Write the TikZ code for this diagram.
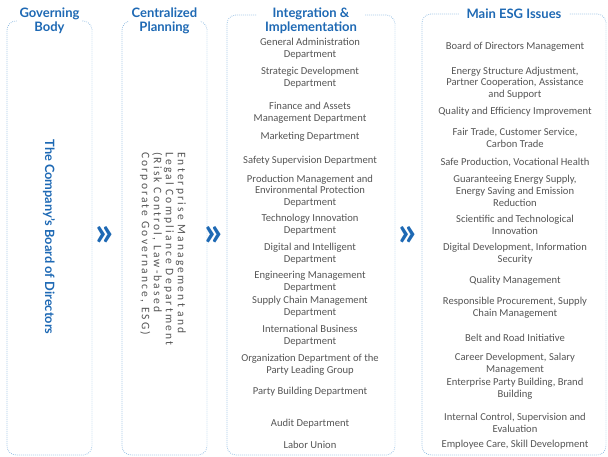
\documentclass[tikz,border=0pt]{standalone}
\usepackage{fontspec}
\setmainfont{Carlito}
\newfontfamily\headfont{Lato}
\newfontfamily\spacedfont[LetterSpace=19]{Carlito}
\definecolor{esgblue}{RGB}{30,105,180}
\definecolor{dotblue}{RGB}{125,175,220}
\definecolor{txtgray}{RGB}{85,85,85}

\begin{document}
\begin{tikzpicture}[x=1pt,y=-1pt,
    frame/.style={draw=dotblue,line width=0.8pt,dash pattern=on 0.6pt off 1.4pt,
      rounded corners=9pt,inner sep=0pt},
    head/.style={fill=white,inner xsep=8pt,inner ysep=1pt,align=center,text=esgblue,
      font=\headfont\bfseries\fontsize{13}{14}\selectfont},
    item/.style={align=center,text=txtgray,inner sep=0pt,
      font=\fontsize{10.6}{11.8}\selectfont},
    chev/.style={text=esgblue,inner sep=0pt,
      font=\headfont\bfseries\fontsize{40}{40}\selectfont}]
    \useasboundingbox (0,0) rectangle (608,457);

    \node[frame,minimum width=85pt,minimum height=434pt] (b1) at (49.5,238) {};
    \node[frame,minimum width=85pt,minimum height=434pt] (b2) at (164.5,238) {};
    \node[frame,minimum width=168pt,minimum height=440pt] (b3) at (311,235) {};
    \node[frame,minimum width=184pt,minimum height=441pt] (b4) at (514,234.5) {};

    \node[head,inner xsep=3pt] (t1) at (b1.north) {Governing\\Body};
    \node[head,inner xsep=3pt] (t2) at (b2.north) {Centralized\\Planning};
    \node[head] (t3) at ([yshift=-6.5pt]b3.north) {Integration \&\\Implementation};
    \node[head] (t4) at (b4.north) {Main ESG Issues};

    \node[text=esgblue,rotate=-90,inner sep=0pt,
      font=\headfont\bfseries\fontsize{12.8}{14}\selectfont] (gov) at (49,237)
      {The Company’s Board of Directors};
    \node[item,rotate=-90,anchor=west,align=left,
      font=\spacedfont\fontsize{11.5}{12}\selectfont] (plan) at (163,152)
      {Enterprise Management and\\Legal Compliance Department\\(Risk Control, Law-based\\Corporate Governance, ESG)};

    \node[chev] (c1) at (104.5,236) {»};
    \node[chev] (c2) at (213.5,236) {»};
    \node[chev] (c3) at (408,236) {»};

    % departments
    \node[item] (d1) at (310,49) {General Administration\\Department};
    \node[item] (d2) at (310,78) {Strategic Development\\Department};
    \node[item] (d3) at (310,113) {Finance and Assets\\Management Department};
    \node[item] (d4) at (310,137) {Marketing Department};
    \node[item] (d5) at (310,161) {Safety Supervision Department};
    \node[item] (d6) at (310,191) {Production Management and\\Environmental Protection\\Department};
    \node[item] (d7) at (310,225) {Technology Innovation\\Department};
    \node[item] (d8) at (310,254) {Digital and Intelligent\\Department};
    \node[item] (d9) at (310,282) {Engineering Management\\Department};
    \node[item] (d10) at (310,307) {Supply Chain Management\\Department};
    \node[item] (d11) at (310,336) {International Business\\Department};
    \node[item] (d12) at (310,365) {Organization Department of the\\Party Leading Group};
    \node[item] (d13) at (310,392) {Party Building Department};
    \node[item] (d14) at (310,424) {Audit Department};
    \node[item] (d15) at (310,445) {Labor Union};

    % issues
    \node[item] (e1) at (515,47) {Board of Directors Management};
    \node[item] (e2) at (515,83) {Energy Structure Adjustment,\\Partner Cooperation, Assistance\\and Support};
    \node[item] (e3) at (515,112) {Quality and Efficiency Improvement};
    \node[item] (e4) at (515,138) {Fair Trade, Customer Service,\\Carbon Trade};
    \node[item] (e5) at (515,162) {Safe Production, Vocational Health};
    \node[item] (e6) at (515,191) {Guaranteeing Energy Supply,\\Energy Saving and Emission\\Reduction};
    \node[item] (e7) at (515,225) {Scientific and Technological\\Innovation};
    \node[item] (e8) at (515,254) {Digital Development, Information\\Security};
    \node[item] (e9) at (515,281) {Quality Management};
    \node[item] (e10) at (515,308) {Responsible Procurement, Supply\\Chain Management};
    \node[item] (e11) at (515,338) {Belt and Road Initiative};
    \node[item] (e12) at (515,364) {Career Development, Salary\\Management};
    \node[item] (e13) at (515,389) {Enterprise Party Building, Brand\\Building};
    \node[item] (e14) at (515,423) {Internal Control, Supervision and\\Evaluation};
    \node[item] (e15) at (515,445) {Employee Care, Skill Development};
\end{tikzpicture}
\end{document}
